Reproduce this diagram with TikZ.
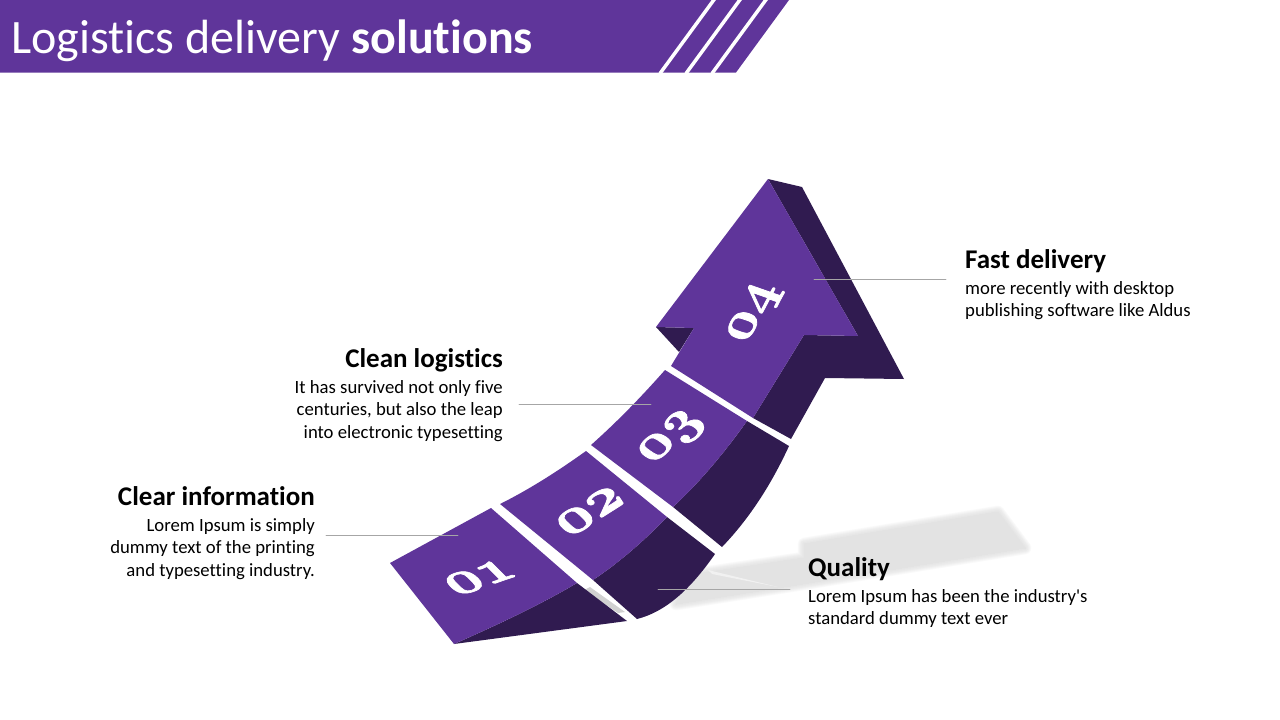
\documentclass[tikz,border=0pt]{standalone}
\usepackage{fontspec}
\setmainfont{Carlito}[Ligatures=NoCommon]
\usepackage{xcolor}
\definecolor{purplef}{RGB}{95,53,154}
\definecolor{purpled}{RGB}{48,27,80}
\newcommand{\heavy}[1]{\special{pdf:code 2 Tr 0.35 w}#1\special{pdf:code 0 Tr 1 w}}
\tikzset{
  headtext/.style={font=\fontsize{27}{30}\selectfont\bfseries,inner sep=0pt},
  bodytext/.style={font=\fontsize{18.7}{22.6}\selectfont,inner sep=0pt},
  numtext/.style={font=\fontencoding{OML}\fontfamily{cmm}\fontseries{b}\fontshape{it}\fontsize{30}{30}\selectfont,text=white,inner sep=0pt,transform shape},
  leader/.style={draw=black!35,line width=0.8pt}
}
\begin{document}
\begin{tikzpicture}[line cap=round,line join=round,x=1pt,y=-1pt]
\useasboundingbox (0,0) rectangle (1280,720);
% banner
\fill [purplef] (0,0) -- (789,0) -- (736,72.5) -- (0,72.5) -- cycle;
\draw [white,line width=3.5pt,line cap=butt] (714.5,-1) -- (660,73.5);
\draw [white,line width=3.5pt,line cap=butt] (740.5,-1) -- (686,73.5);
\draw [white,line width=3.5pt,line cap=butt] (766.5,-1) -- (712,73.5);
\node (title) [anchor=west,inner sep=0pt,text=white] at (11,40.5) {\fontsize{48}{50}\selectfont Logistics delivery \textbf{solutions}};
% shadow
\foreach \w/\p in {13/1,12/2,11/3,10/4,9/5,8/6,7/7,6/7.5,5/8,4/8.5,3/9,2/9.5,1/10,0/11}
  \filldraw [fill=black!\p,draw=black!\p,line width=\w pt] (690,575) -- (804,558) -- (804,544) -- (998,512) -- (1025,548) -- (790,586) -- (676,604) -- cycle;
\fill [white,opacity=0.5] (708,570) -- (778,587) -- (712,574) -- cycle;
\fill [black!18] (584,590) -- (590,587) -- (625,612) -- (618,613) -- cycle;
% dark sides
\fill [purpled] (454,644) .. controls (495,626) and (540,605) .. (577,583) -- (627,621) -- cycle;
\fill [purpled] (593,580) .. controls (620,562) and (645,540) .. (667,517) -- (715,554) .. controls (690,590) and (665,612) .. (637,619) -- cycle;
\fill [purpled] (673,507) .. controls (700,482) and (725,452) .. (747,421) -- (789,446) .. controls (772,483) and (750,518) .. (722,547) -- cycle;
\fill [purpled] (768,179) -- (802,187) -- (904,379) -- (825,378) -- (791,439) -- (753,418) -- (804,335) -- (858,336) -- cycle;
\fill [purpled] (656,327) -- (694,328) -- (679,352) -- cycle;
% top faces
\fill [purplef] (390,563) -- (491,508) -- (577,583) .. controls (540,605) and (495,626) .. (454,644) -- cycle;
\fill [purplef] (500,504) .. controls (530,489) and (558,471) .. (586,451) -- (667,517) .. controls (645,540) and (620,562) .. (593,580) -- cycle;
\fill [purplef] (591,445) .. controls (618,421) and (642,396) .. (665,370) -- (747,421) .. controls (725,452) and (700,482) .. (673,507) -- cycle;
\fill [purplef] (768,179) -- (858,336) -- (804,335) -- (753,418) -- (671,366) -- (694,328) -- (656,327) -- cycle;
% numbers
\node (num1) at (480,577) [numtext,cm={2.2,0.75,-1.55,1.55,(0,0)}] {\heavy{01}};
\node (num2) at (590,511) [numtext,cm={2.05,1.3,-1.6,1.5,(0,0)}] {\heavy{02}};
\node (num3) at (672,438) [numtext,cm={1.7,1.6,-1.75,1.2,(0,0)}] {\heavy{03}};
\node (num4) at (755,313) [numtext,cm={1.05,2.0,-2,0.7,(0,0)}] {\heavy{04}};
% labels
\node (head1) [headtext,anchor=base east] at (315,505) {Clear information};
\node (body1) [bodytext,anchor=north east,align=right] at (315,518) {Lorem Ipsum is simply\\dummy text of the printing\\and typesetting industry.};
\node (head2) [headtext,anchor=base east] at (503,367.5) {Clean logistics};
\node (body2) [bodytext,anchor=north east,align=right] at (503,380) {It has survived not only five\\centuries, but also the leap\\into electronic typesetting};
\node (head3) [headtext,anchor=base west] at (808,576.5) {Quality};
\node (body3) [bodytext,anchor=north west,align=left] at (808,589) {Lorem Ipsum has been the industry\textquotesingle s\\standard dummy text ever};
\node (head4) [headtext,anchor=base west] at (965,268.5) {Fast delivery};
\node (body4) [bodytext,anchor=north west,align=left] at (965,281) {more recently with desktop\\publishing software like Aldus};
% leaders
\coordinate (a1) at (326,535); \coordinate (b1) at (458,535);
\coordinate (a2) at (519,404); \coordinate (b2) at (651,404);
\coordinate (a3) at (790,589); \coordinate (b3) at (658,589);
\coordinate (a4) at (946,279); \coordinate (b4) at (814,279);
\foreach \i in {1,2,3,4}
  \draw [leader] (a\i) -- (b\i);
\end{tikzpicture}
\end{document}
